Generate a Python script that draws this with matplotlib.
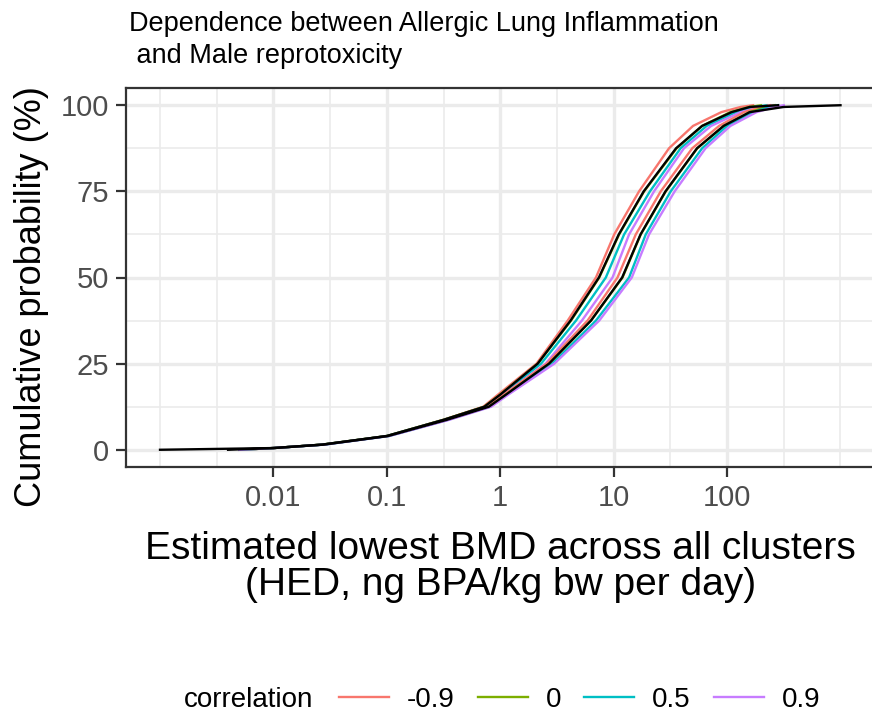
import numpy as np
import matplotlib
matplotlib.use("Agg")
import matplotlib.pyplot as plt
from matplotlib.ticker import FixedLocator, NullFormatter

plt.rcParams['font.family'] = ['Liberation Sans', 'DejaVu Sans']

# cumulative probability levels (%) at which the curves were read
pct = [0, 0.5, 1.5, 4, 8.7, 12.5, 16, 25, 37.5, 50, 62.5, 75, 87.5, 94, 98, 99.5, 100]

# log10 of estimated lowest BMD, first (left) set of curves
a_neg09 = [-2.3, -2.0, -1.57, -1.0, -0.50, -0.15, -0.02, 0.32, 0.595, 0.844, 1.005, 1.224, 1.488, 1.70, 1.95, 2.12, 2.23]
a_0 = [-2.3, -2.0, -1.57, -1.0, -0.50, -0.14, 0.0, 0.331, 0.624, 0.873, 1.048, 1.268, 1.555, 1.78, 2.03, 2.2, 2.3]
a_05 = [-2.3, -2.0, -1.57, -1.0, -0.49, -0.13, 0.01, 0.36, 0.668, 0.931, 1.092, 1.32, 1.59, 1.82, 2.08, 2.25, 2.35]
a_09 = [-2.3, -2.0, -1.56, -0.99, -0.48, -0.12, 0.03, 0.40, 0.72, 0.99, 1.136, 1.356, 1.62, 1.86, 2.12, 2.3, 2.4]
a_ref = [-3.0, -2.0, -1.57, -1.0, -0.50, -0.14, 0.0, 0.33, 0.62, 0.87, 1.045, 1.265, 1.55, 1.78, 2.04, 2.2, 2.45]

# second (right) set of curves
b_neg09 = [-2.3, -2.0, -1.56, -0.99, -0.48, -0.11, 0.03, 0.41, 0.77, 1.034, 1.195, 1.415, 1.693, 1.93, 2.15, 2.3, 2.38]
b_0 = [-2.3, -2.0, -1.56, -0.99, -0.47, -0.10, 0.05, 0.433, 0.80, 1.078, 1.239, 1.459, 1.737, 1.97, 2.2, 2.35, 2.42]
b_05 = [-2.3, -2.0, -1.55, -0.98, -0.46, -0.09, 0.06, 0.46, 0.844, 1.136, 1.283, 1.503, 1.78, 2.0, 2.23, 2.38, 2.45]
b_09 = [-2.3, -2.0, -1.55, -0.98, -0.45, -0.08, 0.07, 0.477, 0.873, 1.16, 1.312, 1.538, 1.81, 2.03, 2.26, 2.42, 2.5]
b_ref = [-2.4, -2.0, -1.56, -0.99, -0.47, -0.10, 0.05, 0.43, 0.80, 1.075, 1.237, 1.457, 1.735, 1.97, 2.2, 2.5, 3.0]

labels = ['-0.9', '0', '0.5', '0.9']
colors = ['#F8766D', '#7CAE00', '#00BFC4', '#C77CFF']

W, H = 872, 713
fig = plt.figure(figsize=(W / 100, H / 100), dpi=100)
ax = fig.add_axes([126 / W, (H - 467) / H, (874.5 - 126) / W, (467 - 88) / H])

handles = []
for series in ([a_neg09, a_0, a_05, a_09], [b_neg09, b_0, b_05, b_09]):
    handles = []
    for vals, c, lab in zip(series, colors, labels):
        h, = ax.plot(10 ** np.array(vals), pct, color=c, lw=1.7, label=lab, zorder=3)
        handles.append(h)
for vals in (a_ref, b_ref):
    ax.plot(10 ** np.array(vals), pct, color='black', lw=1.7, zorder=4)

ax.set_xscale('log')
ax.set_xlim(10 ** -3.3, 10 ** 3.3)
ax.set_ylim(-5, 105)

ax.xaxis.set_major_locator(FixedLocator([0.01, 0.1, 1, 10, 100]))
ax.set_xticklabels(['0.01', '0.1', '1', '10', '100'])
ax.xaxis.set_minor_locator(FixedLocator(10 ** np.arange(-3, 3.01, 0.5)))
ax.xaxis.set_minor_formatter(NullFormatter())
ax.set_yticks([0, 25, 50, 75, 100])
ax.yaxis.set_minor_locator(FixedLocator([12.5, 37.5, 62.5, 87.5]))

ax.grid(which='major', color='#EBEBEB', lw=2.4, zorder=0)
ax.grid(which='minor', color='#EBEBEB', lw=1.2, zorder=0)
ax.set_axisbelow(True)
ax.tick_params(which='major', length=7, width=1.6, color='#333333', labelsize=21,
               labelcolor='#4D4D4D', pad=5)
ax.tick_params(which='minor', length=0)
for s in ax.spines.values():
    s.set_color('#333333')
    s.set_linewidth(1.6)

ax.set_ylabel('Cumulative probability (%)', fontsize=26)
ax.yaxis.set_label_coords(-0.103, 0.449)
ax.set_xlabel('Estimated lowest BMD across all clusters\n(HED, ng BPA/kg bw per day)',
              fontsize=28, labelpad=14, linespacing=1.0)

fig.text(129 / W, 1 - 40 / H, 'Dependence between Allergic Lung Inflammation\n and Male reprotoxicity',
         fontsize=19.5, ha='left', va='center', linespacing=1.3)

fig.text(184 / W, 1 - 700 / H, 'correlation', fontsize=20, ha='left', va='center')
fig.legend(handles=handles, labels=labels, loc='center left', ncol=4,
           bbox_to_anchor=(339 / W, 1 - 700 / H), frameon=False, fontsize=20,
           handlelength=1.8, handletextpad=0.65, columnspacing=0.82,
           borderpad=0, borderaxespad=0)

fig.savefig('out.png', dpi=100, facecolor='white')
